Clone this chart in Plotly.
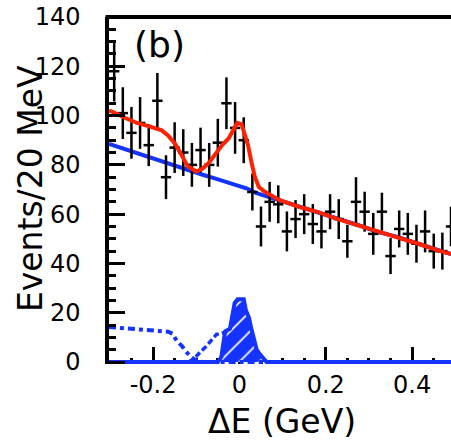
import plotly.graph_objects as go

# Measured Delta-E spectrum (20 MeV bins)
de_bins = [-0.29, -0.27, -0.25, -0.23, -0.21, -0.19, -0.17, -0.15, -0.13, -0.11,
           -0.09, -0.07, -0.05, -0.03, -0.01, 0.01, 0.03, 0.05, 0.07, 0.09,
           0.11, 0.13, 0.15, 0.17, 0.19, 0.21, 0.23, 0.25, 0.27, 0.29,
           0.31, 0.33, 0.35, 0.37, 0.39, 0.41, 0.43, 0.45, 0.47, 0.49]
events = [118, 101, 93, 97, 88, 106, 75, 87, 85, 80,
          86, 80, 89, 105, 95, 90, 69, 55, 65, 64,
          53, 58, 60, 56, 53, 61, 58, 49, 65, 61,
          52, 61, 43, 54, 52, 48, 53, 45, 45, 55]
events_err = [12.3, 10.5, 10.5, 10.5, 8.5, 11.3, 8.9, 10.3, 9.5, 8.9,
              9.1, 8.9, 9.7, 10.5, 10.5, 9.3, 7.5, 8.1, 8.1, 7.7,
              8.1, 7.7, 8.1, 8.1, 6.9, 7.1, 8.1, 6.7, 10.0, 8.1,
              8.5, 7.7, 7.3, 7.5, 8.5, 7.7, 8.5, 7.1, 7.5, 8.0]

# Total fit
fit_x = [-0.302, -0.295, -0.264, -0.237, -0.207, -0.180, -0.166, -0.149, -0.134, -0.120,
         -0.100, -0.085, -0.070, -0.057, -0.040, -0.025, -0.013, -0.005, 0.005, 0.012,
         0.020, 0.028, 0.036, 0.045, 0.060, 0.080, 0.092, 0.138, 0.184, 0.230,
         0.276, 0.322, 0.368, 0.414, 0.460, 0.490]
fit_y = [102.0, 101.6, 99.0, 97.0, 95.5, 94.0, 92.0, 88.6, 84.0, 79.5,
         77.3, 78.5, 81.0, 84.0, 88.0, 90.7, 94.5, 97.0, 96.5, 93.0,
         88.0, 81.0, 75.0, 71.0, 69.0, 67.0, 65.8, 63.0, 60.7, 57.9,
         55.5, 52.7, 50.7, 48.0, 45.3, 43.8]

# Continuum background
cont_x = [-0.302, -0.276, -0.246, -0.218, -0.195, -0.166, -0.138, -0.111, -0.085, -0.057,
          -0.031, -0.005, 0.018, 0.038, 0.060, 0.092, 0.138, 0.184, 0.230, 0.276,
          0.322, 0.368, 0.414, 0.460, 0.490]
cont_y = [88.5, 87.0, 85.0, 83.4, 82.0, 80.6, 79.0, 77.3, 76.0, 74.5,
          73.0, 71.6, 70.4, 68.6, 67.4, 65.8, 63.0, 60.7, 57.9, 55.5,
          52.7, 50.7, 48.0, 45.3, 43.8]

# Generic B background (dash-dot)
bbkg_x = [-0.302, -0.260, -0.210, -0.165, -0.155, -0.145, -0.133, -0.125, -0.112, -0.098,
          -0.085, 0.490]
bbkg_y = [14.2, 13.5, 12.8, 12.3, 11.5, 8.5, 6.5, 4.5, 2.0, 0.4,
          0.0, 0.0]

# Peaking background (dashed)
peak_x = [-0.118, -0.104, -0.091, -0.076, -0.064, -0.053, -0.040, -0.029, -0.015, 0.000,
          0.015, 0.030, 0.045, 0.060, 0.070]
peak_y = [0.0, 1.5, 4.0, 6.5, 9.0, 11.2, 11.8, 11.8, 12.0, 12.5,
          11.5, 8.0, 3.0, 0.5, 0.0]

# Signal component (hatched)
sig_x = [-0.302, -0.050, -0.042, -0.037, -0.033, -0.022, -0.017, -0.011, -0.004, 0.010,
         0.015, 0.022, 0.027, 0.033, 0.040, 0.048, 0.057, 0.063, 0.490]
sig_y = [0.0, 0.0, 2.0, 8.0, 12.5, 13.5, 19.0, 24.0, 25.5, 25.5,
         21.0, 18.0, 14.0, 9.0, 5.0, 3.0, 1.5, 0.0, 0.0]

x_ticks = [-0.2, 0.0, 0.2, 0.4]
x_tick_text = ["-0.2", "0", "0.2", "0.4"]
y_ticks = [0, 20, 40, 60, 80, 100, 120, 140]

BLUE = "#1533ff"
RED = "#ff2200"
FONT = "DejaVu Sans"

fig = go.Figure()

fig.add_trace(go.Scatter(x=cont_x, y=cont_y, mode="lines",
                         line=dict(color=BLUE, width=4), hoverinfo="skip"))
fig.add_trace(go.Scatter(x=peak_x, y=peak_y, mode="lines",
                         line=dict(color=BLUE, width=3.5, dash="6px,3px"), hoverinfo="skip"))
fig.add_trace(go.Scatter(x=sig_x, y=sig_y, mode="lines", fill="tozeroy",
                         line=dict(color=BLUE, width=4),
                         fillcolor=BLUE,
                         fillpattern=dict(shape="/", bgcolor=BLUE, fgcolor="white",
                                          fillmode="replace", size=14, solidity=0.12),
                         hoverinfo="skip"))
fig.add_trace(go.Scatter(x=bbkg_x, y=bbkg_y, mode="lines",
                         line=dict(color=BLUE, width=4, dash="7px,4px,4px,4px"), hoverinfo="skip"))
fig.add_trace(go.Scatter(
    x=de_bins, y=events, mode="markers",
    marker=dict(size=2, color="black"),
    error_y=dict(type="data", array=events_err, color="black", thickness=2.5, width=0),
    error_x=dict(type="constant", value=0.012, color="black", thickness=2.5, width=0),
    hoverinfo="skip"))
fig.add_trace(go.Scatter(x=fit_x, y=fit_y, mode="lines",
                         line=dict(color=RED, width=4), hoverinfo="skip"))

fig.update_layout(
    width=451, height=445,
    margin=dict(l=109, r=0, t=17, b=81),
    paper_bgcolor="white", plot_bgcolor="white",
    showlegend=False,
    font=dict(family=FONT, color="black"),
    shapes=[dict(type="line", xref="paper", yref="paper", x0=-0.01, x1=1, y0=1, y1=1,
                 line=dict(color="black", width=4))],
    annotations=[
        dict(text="(b)", xref="paper", yref="paper", x=0.149, y=0.922,
             showarrow=False, font=dict(family=FONT, size=36, color="black"),
             xanchor="center", yanchor="middle"),
        dict(text="ΔE (GeV)", xref="paper", yref="paper", x=0.506, y=-0.165,
             showarrow=False, font=dict(family=FONT, size=33, color="black"),
             xanchor="center", yanchor="middle"),
        dict(text="Events/20 MeV", xref="paper", yref="paper", x=-0.23, y=0.505,
             showarrow=False, textangle=-90, font=dict(family=FONT, size=33, color="black"),
             xanchor="center", yanchor="middle"),
    ],
)

fig.update_xaxes(
    range=[-0.302, 0.49], showgrid=False, zeroline=False, showline=False,
    tickvals=x_ticks, ticktext=x_tick_text,
    ticks="inside", ticklen=17, tickwidth=3, tickcolor="black",
    minor=dict(dtick=0.05, tick0=0, ticks="inside", ticklen=6, tickwidth=3, tickcolor="black"),
    tickfont=dict(family=FONT, size=24, color="black"),
    ticklabelstandoff=4, layer="below traces",
)
fig.update_yaxes(
    range=[-0.8, 140], showgrid=False, zeroline=False,
    showline=True, linecolor="black", linewidth=3.5,
    tickvals=y_ticks,
    ticks="inside", ticklen=16, tickwidth=3, tickcolor="black",
    minor=dict(dtick=5, tick0=0, ticks="inside", ticklen=7, tickwidth=3, tickcolor="black"),
    tickfont=dict(family=FONT, size=24, color="black"),
    ticklabelstandoff=20,
)

fig.write_html("out.html")
